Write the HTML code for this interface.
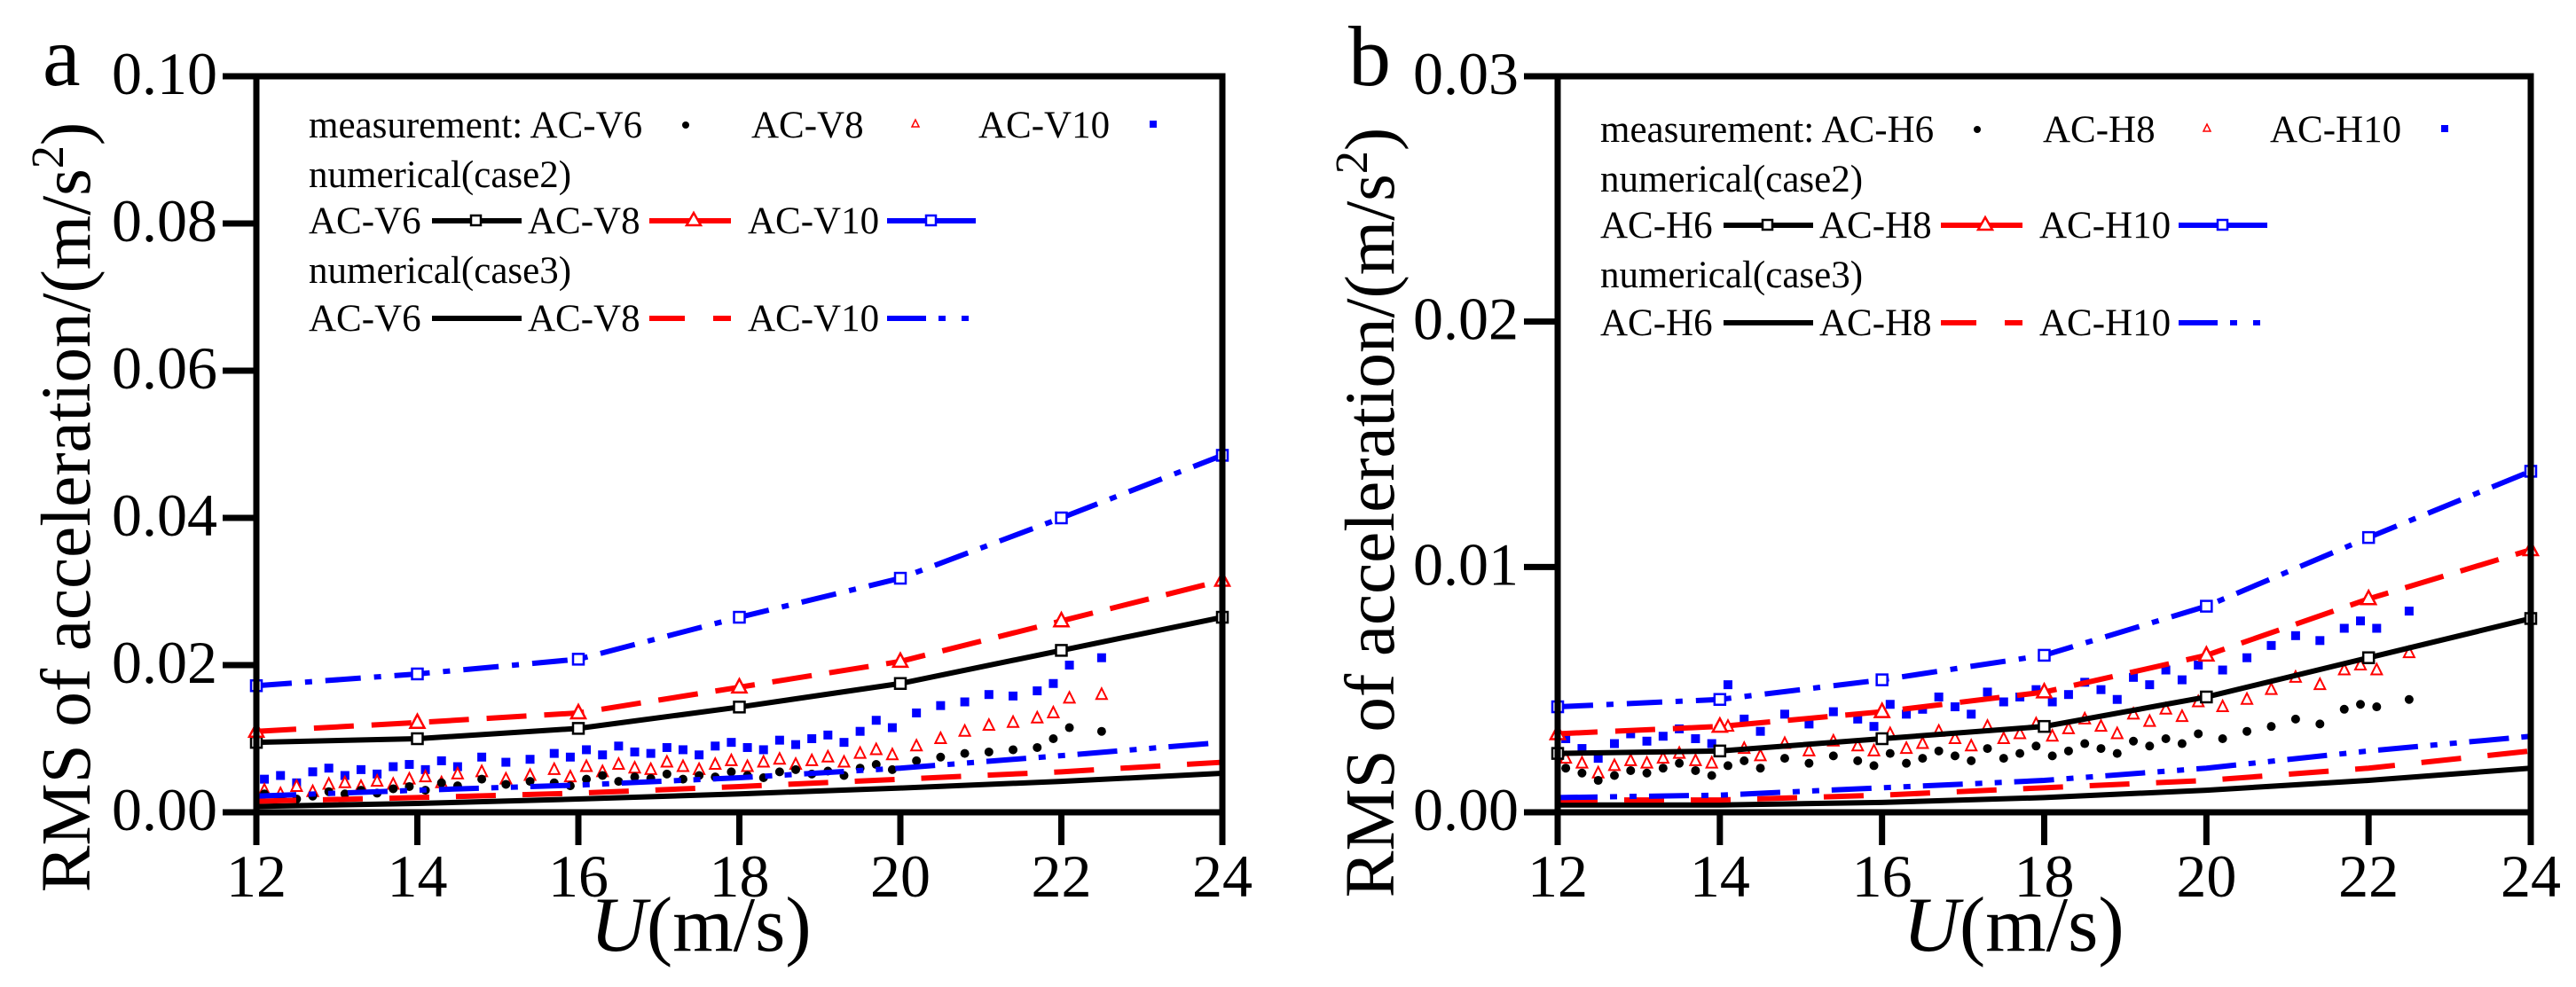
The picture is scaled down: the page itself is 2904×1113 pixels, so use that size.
<!DOCTYPE html>
<html><head><meta charset="utf-8">
<style>
html,body{margin:0;padding:0;background:#fff;}
svg{display:block;font-family:"Liberation Serif",serif;}
</style></head>
<body>
<svg id="chart" width="2904" height="1113" viewBox="0 0 2904 1113" xmlns="http://www.w3.org/2000/svg"></svg>
<script>
const xTicks = [12,14,16,18,20,22,24];
const yTicksA = [0,0.02,0.04,0.06,0.08,0.10];
const yTicksB = [0,0.01,0.02,0.03];
const yTickLabelsA = ["0.00","0.02","0.04","0.06","0.08","0.10"];
const yTickLabelsB = ["0.00","0.01","0.02","0.03"];
const numU = [12,14,16,18,20,22,24];
// panel a numerical
const aCase2V6 = [0.0095,0.0100,0.0114,0.0143,0.0175,0.0220,0.0265];
const aCase2V8 = [0.0110,0.0122,0.0135,0.0170,0.0205,0.0260,0.0315];
const aCase2V10 = [0.0172,0.0188,0.0208,0.0265,0.0318,0.0400,0.0485];
const aCase3V6 = [0.0008,0.0012,0.0018,0.0025,0.0033,0.0042,0.0053];
const aCase3V8 = [0.0015,0.0020,0.0026,0.0035,0.0045,0.0055,0.0068];
const aCase3V10 = [0.0022,0.0030,0.0037,0.0047,0.0060,0.0077,0.0095];
// panel b numerical
const bCase2H6 = [0.0024,0.0025,0.0030,0.0035,0.0047,0.0063,0.0079];
const bCase2H8 = [0.0032,0.0035,0.0041,0.0049,0.0064,0.0087,0.0107];
const bCase2H10 = [0.0043,0.0046,0.0054,0.0064,0.0084,0.0112,0.0139];
const bCase3H6 = [0.0003,0.0003,0.0004,0.0006,0.0009,0.0013,0.0018];
const bCase3H8 = [0.0005,0.0005,0.0007,0.0010,0.0013,0.0018,0.0025];
const bCase3H10 = [0.0006,0.0007,0.0010,0.0013,0.0018,0.0025,0.0031];
// measurements
const measU = [12.1,12.3,12.5,12.7,12.9,13.1,13.3,13.5,13.7,13.9,14.1,14.3,14.5,14.8,15.1,15.4,15.7,15.9,16.1,16.3,16.5,16.7,16.9,17.1,17.3,17.5,17.7,17.9,18.1,18.3,18.5,18.7,18.9,19.1,19.3,19.5,19.7,19.9,20.2,20.5,20.8,21.1,21.4,21.7,21.9,22.1,22.5];
const aMeasV6 = [.0025,.0020,.0018,.0022,.0028,.0025,.0030,.0026,.0032,.0035,.0030,.0040,.0036,.0045,.0038,.0042,.0040,.0036,.0045,.0050,.0042,.0048,.0046,.0052,.0045,.0050,.0048,.0055,.0050,.0047,.0055,.0058,.0052,.0056,.0050,.0060,.0065,.0058,.0070,.0075,.0080,.0082,.0085,.0088,.0100,.0115,.0110];
const aMeasV8 = [.0030,.0025,.0035,.0028,.0038,.0040,.0035,.0042,.0038,.0045,.0048,.0040,.0052,.0055,.0045,.0050,.0058,.0048,.0062,.0055,.0065,.0060,.0058,.0068,.0062,.0058,.0065,.0070,.0062,.0068,.0072,.0065,.0070,.0075,.0068,.0080,.0085,.0078,.0090,.0100,.0110,.0118,.0122,.0128,.0135,.0155,.0160];
const aMeasV10 = [.0045,.0050,.0040,.0055,.0060,.0050,.0058,.0052,.0062,.0065,.0058,.0070,.0062,.0075,.0068,.0072,.0080,.0075,.0085,.0078,.0090,.0082,.0080,.0088,.0085,.0078,.0090,.0095,.0088,.0085,.0098,.0092,.0100,.0105,.0095,.0110,.0125,.0115,.0135,.0145,.0150,.0160,.0158,.0165,.0175,.0200,.0210];
const bMeasH6 = [.0018,.0016,.0013,.0015,.0017,.0016,.0018,.0020,.0017,.0015,.0019,.0021,.0018,.0022,.0020,.0023,.0021,.0019,.0024,.0020,.0022,.0025,.0023,.0021,.0026,.0022,.0024,.0027,.0023,.0025,.0028,.0026,.0024,.0029,.0027,.0030,.0028,.0032,.0030,.0033,.0035,.0038,.0036,.0042,.0044,.0043,.0046];
const bMeasH8 = [.0022,.0020,.0016,.0019,.0021,.0020,.0022,.0024,.0021,.0020,.0035,.0026,.0023,.0028,.0025,.0029,.0027,.0025,.0032,.0026,.0028,.0033,.0030,.0027,.0035,.0030,.0032,.0036,.0031,.0034,.0038,.0035,.0032,.0040,.0037,.0042,.0039,.0045,.0043,.0046,.0050,.0055,.0052,.0058,.0060,.0058,.0065];
const bMeasH10 = [.0030,.0026,.0022,.0028,.0032,.0029,.0031,.0034,.0030,.0028,.0052,.0038,.0033,.0040,.0036,.0041,.0038,.0035,.0044,.0040,.0042,.0047,.0043,.0040,.0049,.0045,.0047,.0050,.0045,.0048,.0053,.0050,.0046,.0055,.0052,.0058,.0054,.0060,.0058,.0063,.0068,.0072,.0070,.0075,.0078,.0075,.0082];

const NS = "http://www.w3.org/2000/svg";
const svg = document.getElementById("chart");
function mk(tag, attrs, parent){
  const e = document.createElementNS(NS, tag);
  for (const k in attrs) e.setAttribute(k, attrs[k]);
  (parent||svg).appendChild(e);
  return e;
}
const BLUE="#0000ff", RED="#ff0000", BLK="#000";

function panel(cfg){
  const g = mk("g", {});
  
  
  const L=cfg.left, R=cfg.right, T=86, B=916;
  const sx = u => L + (u-12)/(24-12)*(R-L);
  const sy = v => B - v/cfg.ymax*(B-T);

  function scatter(vals, kind, color, nm){
    const sg = mk("g", {}, g);
    
    
    vals.forEach((v,i)=>{
      const x=sx(measU[i]), y=sy(v); let m;
      if(kind==="dot") m=mk("circle",{cx:x,cy:y,r:5,fill:color},sg);
      else if(kind==="tri") m=mk("polygon",{points:`${x},${y-7} ${x-6},${y+5} ${x+6},${y+5}`,fill:"#fff",stroke:color,"stroke-width":2},sg);
      else m=mk("rect",{x:x-5,y:y-5,width:10,height:10,fill:color},sg);
      
      
    });
  }
  scatter(cfg.m10, "sq", BLUE, "measurement-"+cfg.s+"10");
  scatter(cfg.m8, "tri", RED, "measurement-"+cfg.s+"8");
  scatter(cfg.m6, "dot", BLK, "measurement-"+cfg.s+"6");

  function line(vals, color, dash, marker, nm){
    const pts = vals.map((v,i)=>sx(numU[i])+","+sy(v)).join(" ");
    const pl = mk("polyline",{points:pts,fill:"none",stroke:color,"stroke-width":6,"stroke-dasharray":dash||"none"},g);
    
    
    if(marker){
      vals.forEach((v,i)=>{
        const x=sx(numU[i]), y=sy(v); let m;
        if(marker==="sq") m=mk("rect",{x:x-6,y:y-6,width:12,height:12,fill:"#fff",stroke:color,"stroke-width":2.5},g);
        else m=mk("polygon",{points:`${x},${y-9} ${x-8},${y+6} ${x+8},${y+6}`,fill:"#fff",stroke:color,"stroke-width":2.5},g);
        
        
      });
    }
  }
  line(cfg.c3_6, BLK, null, null, "case3-"+cfg.s+"6-line");
  line(cfg.c3_8, RED, "45 30", null, "case3-"+cfg.s+"8-line");
  line(cfg.c3_10, BLUE, "45 14 8 14 8 14", null, "case3-"+cfg.s+"10-line");
  line(cfg.c2_6, BLK, null, "sq", "case2-"+cfg.s+"6-line");
  line(cfg.c2_8, RED, "45 20", "tri", "case2-"+cfg.s+"8-line");
  line(cfg.c2_10, BLUE, "40 15 8 15", "sq", "case2-"+cfg.s+"10-line");

  const fr = mk("rect",{x:L,y:T,width:R-L,height:B-T,fill:"none",stroke:BLK,"stroke-width":7},g);
  
  
  cfg.yt.forEach((v,i)=>{
    const y=sy(v);
    const t=mk("line",{x1:L-38,y1:y,x2:L,y2:y,stroke:BLK,"stroke-width":7},g);
    
    
    const lb=mk("text",{x:L-44,y:y+20,"font-size":68,"text-anchor":"end"},g);
    lb.textContent=cfg.ytl[i];
    
    
  });
  xTicks.forEach(u=>{
    const x=sx(u);
    const t=mk("line",{x1:x,y1:B,x2:x,y2:B+37,stroke:BLK,"stroke-width":7},g);
    
    
    const lb=mk("text",{x:x,y:1011,"font-size":68,"text-anchor":"middle"},g);
    lb.textContent=String(u);
    
    
  });
  const xt=mk("text",{x:cfg.xtx,y:1072,"font-size":88,"text-anchor":"middle"},g);
  xt.innerHTML='<tspan font-style="italic">U</tspan>(m/s)';
  
  
  const yt=mk("text",{x:0,y:0,"font-size":79,"text-anchor":"middle",transform:`translate(${cfg.ytx},${cfg.yty}) rotate(-90)`},g);
  yt.innerHTML='RMS of acceleration/(m/s<tspan font-size="52" dy="-30">2</tspan><tspan dy="30">)</tspan>';
  
  
  const pl=mk("text",{x:cfg.plx,y:96,"font-size":96},g);
  pl.textContent=cfg.letter;
  
  

  const lg = mk("g",{"font-size":43},g);
  
  
  const o = cfg.lx, dy = cfg.ldy;
  const rows=[155+dy,211+dy,263+dy,319+dy,373+dy];
  function txt(x,y,s){const t=mk("text",{x:o+x,y:y},lg);t.textContent=s;}
  const s=cfg.s;
  txt(0,rows[0],"measurement: AC-"+s+"6");
  mk("circle",{cx:o+425,cy:rows[0]-14,r:4,fill:BLK},lg);
  txt(499,rows[0],"AC-"+s+"8");
  mk("polygon",{points:`${o+684},${rows[0]-20} ${o+680},${rows[0]-12} ${o+688},${rows[0]-12}`,fill:"#fff",stroke:RED,"stroke-width":1.5},lg);
  txt(755,rows[0],"AC-"+s+"10");
  mk("rect",{x:o+948,y:rows[0]-19,width:8,height:8,fill:BLUE},lg);
  txt(0,rows[1],"numerical(case2)");
  txt(0,rows[3],"numerical(case3)");
  [2,4].forEach(r=>{
    const y=rows[r], ly=y-14;
    txt(0,y,"AC-"+s+"6"); txt(247,y,"AC-"+s+"8"); txt(495,y,"AC-"+s+"10");
    const d8 = r===2?"none":"40 32", d10 = r===2?"none":"44 14 8 18 8 14";
    mk("line",{x1:o+139,y1:ly,x2:o+240,y2:ly,stroke:BLK,"stroke-width":6},lg);
    mk("line",{x1:o+384,y1:ly,x2:o+476,y2:ly,stroke:RED,"stroke-width":6,"stroke-dasharray":d8},lg);
    mk("line",{x1:o+652,y1:ly,x2:o+752,y2:ly,stroke:BLUE,"stroke-width":6,"stroke-dasharray":d10},lg);
    if(r===2){
      mk("rect",{x:o+183,y:ly-6,width:11,height:11,fill:"#fff",stroke:BLK,"stroke-width":2.5},lg);
      mk("polygon",{points:`${o+434},${ly-9} ${o+426},${ly+5} ${o+442},${ly+5}`,fill:"#fff",stroke:RED,"stroke-width":2.5},lg);
      mk("rect",{x:o+696,y:ly-6,width:11,height:11,fill:"#fff",stroke:BLUE,"stroke-width":2.5},lg);
    }
  });
}

panel({name:"panel-a",letter:"a",s:"V",left:289,right:1378,ymax:0.10,yt:yTicksA,ytl:yTickLabelsA,
  c2_6:aCase2V6,c2_8:aCase2V8,c2_10:aCase2V10,c3_6:aCase3V6,c3_8:aCase3V8,c3_10:aCase3V10,
  m6:aMeasV6,m8:aMeasV8,m10:aMeasV10,xtx:790,ytx:101,yty:572,plx:48,lx:348,ldy:0});
panel({name:"panel-b",letter:"b",s:"H",left:1756,right:2853,ymax:0.03,yt:yTicksB,ytl:yTickLabelsB,
  c2_6:bCase2H6,c2_8:bCase2H8,c2_10:bCase2H10,c3_6:bCase3H6,c3_8:bCase3H8,c3_10:bCase3H10,
  m6:bMeasH6,m8:bMeasH8,m10:bMeasH10,xtx:2270,ytx:1571,yty:578,plx:1520,lx:1804,ldy:5});
</script>
</body></html>
